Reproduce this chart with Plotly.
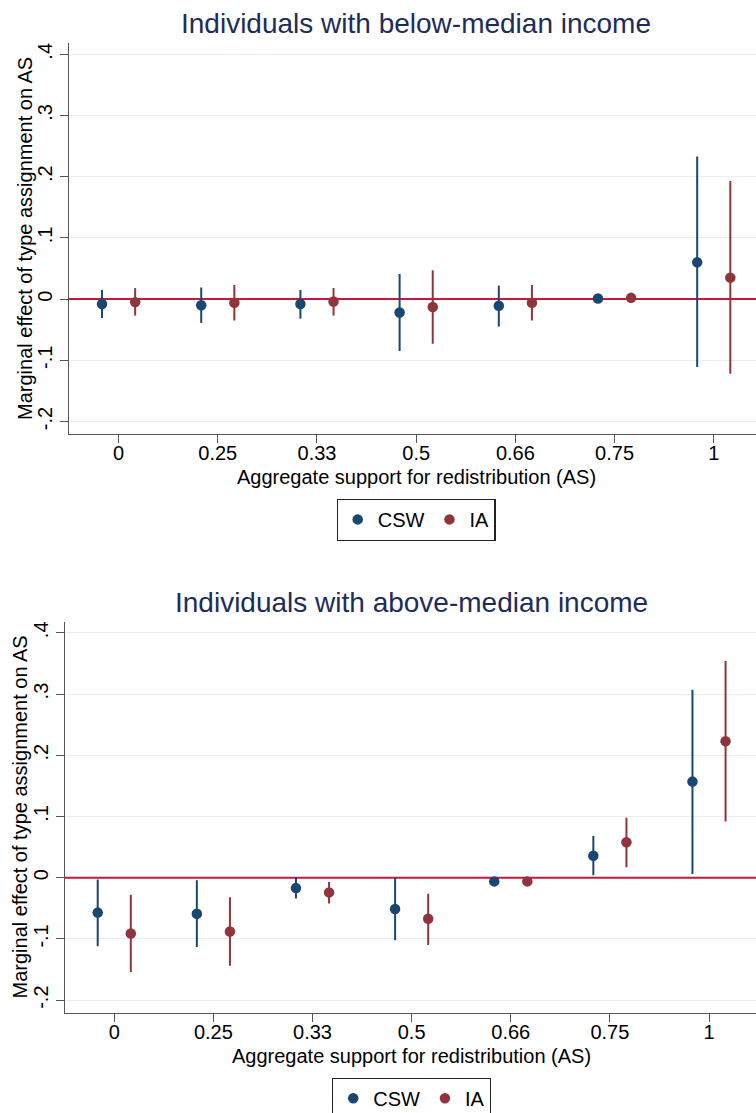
import plotly.graph_objects as go

# ---------------- data ----------------
categories = ["0", "0.25", "0.33", "0.5", "0.66", "0.75", "1"]

# Individuals with below-median income
csw_below = [-0.008, -0.010, -0.008, -0.022, -0.011, 0.001, 0.060]
csw_below_lo = [-0.031, -0.039, -0.032, -0.085, -0.045, -0.001, -0.111]
csw_below_hi = [0.015, 0.019, 0.015, 0.041, 0.022, 0.003, 0.233]
ia_below = [-0.005, -0.006, -0.004, -0.013, -0.006, 0.002, 0.035]
ia_below_lo = [-0.027, -0.035, -0.027, -0.073, -0.035, 0.000, -0.122]
ia_below_hi = [0.018, 0.023, 0.018, 0.047, 0.023, 0.004, 0.193]

# Individuals with above-median income
csw_above = [-0.057, -0.059, -0.017, -0.051, -0.006, 0.036, 0.157]
csw_above_lo = [-0.112, -0.113, -0.034, -0.102, -0.009, 0.004, 0.006]
csw_above_hi = [-0.003, -0.004, 0.001, 0.000, -0.003, 0.068, 0.307]
ia_above = [-0.091, -0.088, -0.024, -0.067, -0.006, 0.058, 0.223]
ia_above_lo = [-0.154, -0.144, -0.042, -0.110, -0.009, 0.017, 0.092]
ia_above_hi = [-0.028, -0.032, -0.007, -0.026, -0.003, 0.098, 0.354]

y_tickvals = [-0.2, -0.1, 0, 0.1, 0.2, 0.3, 0.4]
y_ticktext = ["-.2", "-.1", "0", ".1", ".2", ".3", ".4"]

series_names = ["CSW", "IA"]
titles = ["Individuals with below-median income", "Individuals with above-median income"]
x_title = "Aggregate support for redistribution (AS)"
y_title = "Marginal effect of type assignment on AS"

# ---------------- style ----------------
W, H = 756, 1113
FONT = "Liberation Sans, Arial, Helvetica, sans-serif"
NAVY = "#1a476f"
MAROON = "#90353b"
TITLE_C = "#1e2c5a"
AXIS_C = "#555555"
GRID_C = "#e6eef1"
RED = "#c41a3d"
OFF = 0.167

def px(v):   # vertical pixel -> paper
    return 1 - v / H

def pxx(v):
    return v / W

X_RANGES = [[0.5, 7.426], [0.503, 7.474]]

fig = go.Figure()

panels = [
    dict(csw=(csw_below, csw_below_lo, csw_below_hi), ia=(ia_below, ia_below_lo, ia_below_hi),
         xa="x", ya="y", legend="legend", rng=X_RANGES[0]),
    dict(csw=(csw_above, csw_above_lo, csw_above_hi), ia=(ia_above, ia_above_lo, ia_above_hi),
         xa="x2", ya="y2", legend="legend2", rng=X_RANGES[1]),
]

cat_pos = list(range(1, len(categories) + 1))

for p in panels:
    # zero reference line (drawn first so markers sit on top)
    fig.add_trace(go.Scatter(
        x=p["rng"], y=[0, 0], mode="lines", line=dict(color=RED, width=2),
        showlegend=False, hoverinfo="skip", xaxis=p["xa"], yaxis=p["ya"], legend=p["legend"],
    ))
    for name, key, color, off in [("CSW", "csw", NAVY, -OFF), ("IA", "ia", MAROON, OFF)]:
        est, lo, hi = p[key]
        fig.add_trace(go.Scatter(
            x=[c + off for c in cat_pos], y=est,
            mode="markers", name=name,
            marker=dict(color=color, size=10.5),
            error_y=dict(type="data", symmetric=False,
                         array=[h - e for h, e in zip(hi, est)],
                         arrayminus=[e - l for l, e in zip(lo, est)],
                         color=color, thickness=2, width=0),
            xaxis=p["xa"], yaxis=p["ya"], legend=p["legend"],
        ))

tickfont = dict(family=FONT, size=20, color="#000000")

def xaxis_cfg(domain_left, rng):
    return dict(domain=[domain_left, 1], range=rng, tickmode="array",
                tickvals=cat_pos, ticktext=categories, showgrid=False, zeroline=False,
                showline=True, linecolor=AXIS_C, linewidth=1.3,
                ticks="outside", ticklen=8, tickcolor=AXIS_C, tickwidth=1.3,
                tickfont=tickfont, fixedrange=True, automargin=False,
                ticklabelstandoff=-7)

def yaxis_cfg(dom, anchor):
    return dict(domain=dom, range=[-0.2205, 0.4185], tickmode="array",
                tickvals=y_tickvals, ticktext=y_ticktext, tickangle=-90,
                showgrid=True, gridcolor=GRID_C, gridwidth=1.3, zeroline=False,
                showline=True, linecolor=AXIS_C, linewidth=1.3,
                ticks="outside", ticklen=8, tickcolor=AXIS_C, tickwidth=1.3,
                tickfont=tickfont, anchor=anchor, fixedrange=True, automargin=False)

legend_cfg = dict(orientation="h", xanchor="center", yanchor="top",
                  bordercolor="#222222", borderwidth=1.2, bgcolor="white",
                  font=dict(family=FONT, size=20, color="#000000"),
                  itemwidth=30)

fig.update_layout(
    width=W, height=H,
    margin=dict(l=0, r=0, t=0, b=0, autoexpand=False),
    paper_bgcolor="white", plot_bgcolor="white",
    font=dict(family=FONT, color="#000000"),
    xaxis=dict(**xaxis_cfg(pxx(69), X_RANGES[0]), anchor="y"),
    yaxis=yaxis_cfg([px(434), px(43)], "x"),
    xaxis2=dict(**xaxis_cfg(pxx(65), X_RANGES[1]), anchor="y2"),
    yaxis2=yaxis_cfg([px(1012.7), px(621.5)], "x2"),
    legend=dict(**legend_cfg, x=pxx(416), y=px(498.7)),
    legend2=dict(**legend_cfg, x=pxx(411.5), y=px(1077.6)),
    showlegend=True,
)

# titles and axis titles
ann = []
ann.append(dict(text=titles[0], x=pxx(416), y=px(23), xanchor="center", yanchor="middle",
                font=dict(family=FONT, size=28, color=TITLE_C)))
ann.append(dict(text=titles[1], x=pxx(411.5), y=px(602), xanchor="center", yanchor="middle",
                font=dict(family=FONT, size=28, color=TITLE_C)))
ann.append(dict(text=x_title, x=pxx(416), y=px(477), xanchor="center", yanchor="middle",
                font=dict(family=FONT, size=20, color="#000000")))
ann.append(dict(text=x_title, x=pxx(411.5), y=px(1056), xanchor="center", yanchor="middle",
                font=dict(family=FONT, size=20, color="#000000")))
ann.append(dict(text=y_title, x=pxx(24.5), y=px(238.5), textangle=-90, xanchor="center",
                yanchor="middle", font=dict(family=FONT, size=20, color="#000000")))
ann.append(dict(text=y_title, x=pxx(19.5), y=px(817), textangle=-90, xanchor="center",
                yanchor="middle", font=dict(family=FONT, size=20, color="#000000")))
for a in ann:
    a.update(xref="paper", yref="paper", showarrow=False)
fig.update_layout(annotations=ann)

fig.write_html("out.html", config={"displayModeBar": False},
               post_script="document.body.style.margin='0';")
